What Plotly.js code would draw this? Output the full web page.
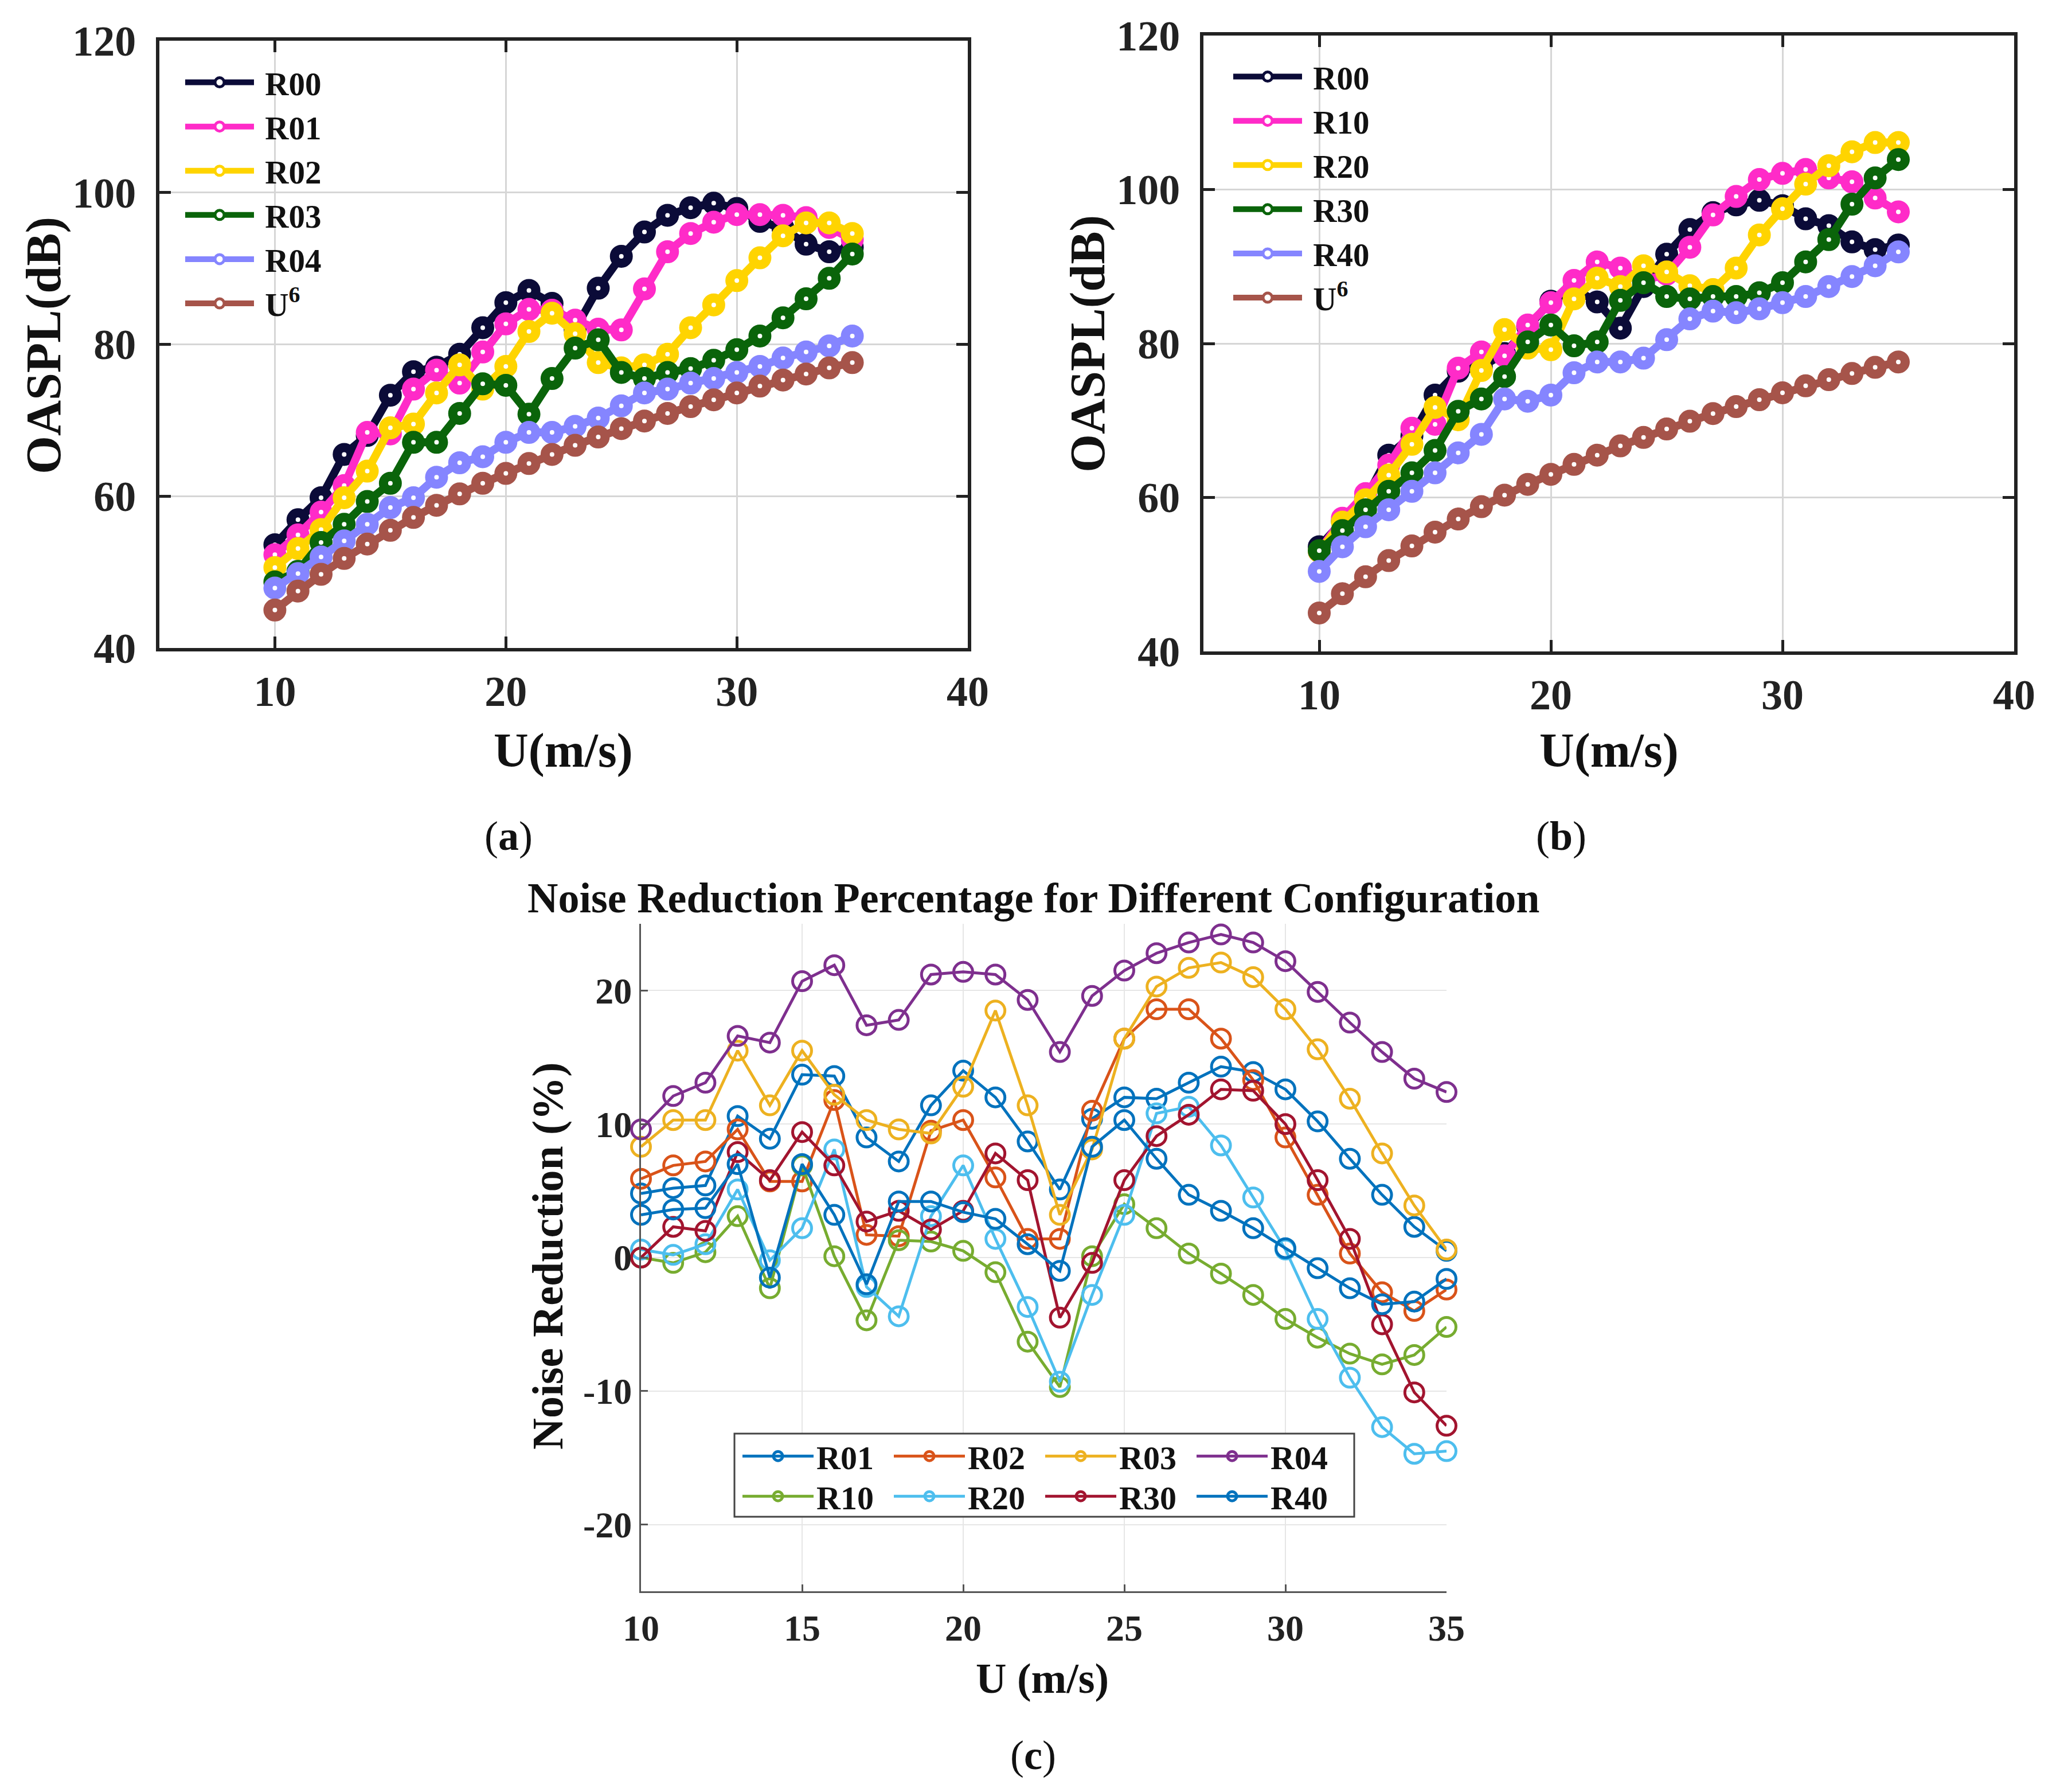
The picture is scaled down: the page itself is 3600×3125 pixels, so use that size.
<!DOCTYPE html>
<html>
<head>
<meta charset="utf-8">
<script src="https://cdn.plot.ly/plotly-3.0.1.min.js"></script>
<style>html,body{margin:0;padding:0;background:#fff;}#chart{width:3600px;height:3125px;}</style>
</head>
<body>
<div id="chart"></div>
<script>
// ---------- DATA ----------
var speed = [10,11,12,13,14,15,16,17,18,19,20,21,22,23,24,25,26,27,28,29,30,31,32,33,34,35];

// Panel (a) / (b): OASPL (dB)
var oasplR00 = [53.6,56.9,59.8,65.5,68.0,73.3,76.4,77.0,78.7,82.2,85.5,87.1,85.4,82.0,87.4,91.6,94.8,97.0,98.0,98.6,97.9,96.2,95.3,93.2,92.2,92.8];
var oasplR01 = [52.3,54.9,57.9,61.4,68.4,68.2,74.1,76.6,74.9,79.0,82.7,84.6,84.5,83.2,82.0,81.9,87.3,92.2,94.6,96.1,97.1,97.1,97.0,96.7,95.4,93.8];
var oasplR02 = [50.6,53.1,55.6,59.8,63.3,69.0,69.5,73.6,77.3,74.1,77.1,81.7,84.1,81.4,77.6,76.9,77.3,78.7,82.2,85.2,88.4,91.4,94.3,96.0,96.0,94.6];
var oasplR03 = [48.7,50.1,53.9,56.3,59.3,61.7,67.1,67.1,70.9,74.8,74.6,70.8,75.5,79.5,80.6,76.3,75.5,76.3,76.8,77.9,79.3,81.1,83.5,86.0,88.7,91.9];
var oasplR04 = [47.9,49.8,52.0,54.1,56.3,58.5,59.8,62.5,64.4,65.2,67.1,68.4,68.4,69.2,70.3,71.9,73.6,74.1,74.9,75.5,76.3,77.1,78.2,79.0,79.8,81.1];
var oasplR10 = [53.0,57.3,60.5,64.2,69.0,69.5,76.8,78.9,78.4,82.4,85.3,88.2,90.6,89.8,88.2,89.0,92.5,96.7,99.1,101.3,102.1,102.6,101.5,101.0,98.9,97.1];
var oasplR20 = [53.0,56.8,59.7,62.9,66.9,71.7,70.1,76.5,81.8,79.4,79.2,85.8,88.5,87.4,90.1,89.3,87.5,87.0,89.8,94.1,97.5,100.7,103.1,104.9,106.1,106.1];
var oasplR30 = [53.1,55.7,58.4,60.8,63.2,66.1,71.2,72.8,75.7,80.2,82.4,79.7,80.2,85.6,87.9,86.1,85.8,86.1,86.1,86.6,87.9,90.6,93.5,98.1,101.5,103.9];
var oasplR40 = [50.4,53.6,56.2,58.4,60.8,63.2,65.8,68.2,72.8,72.5,73.3,76.2,77.6,77.6,78.1,80.5,83.2,84.2,84.0,84.5,85.3,86.1,87.4,88.7,90.1,91.9];
var oasplU6  = [45.0,47.5,49.7,51.8,53.7,55.5,57.2,58.8,60.3,61.7,63.0,64.3,65.5,66.7,67.8,68.9,69.9,70.9,71.8,72.7,73.6,74.5,75.3,76.1,76.9,77.6];

// Panel (c): noise reduction (%)
var nrR01 = [4.8,5.2,5.4,10.6,8.9,13.7,13.6,9.0,7.2,11.4,14.0,12.0,8.7,5.1,10.4,12.0,11.9,13.1,14.3,13.9,12.6,10.2,7.4,4.7,2.3,0.5];
var nrR02 = [5.9,6.9,7.2,9.6,5.7,5.7,11.8,1.7,1.6,9.5,10.3,6.0,1.4,1.4,11.0,16.4,18.6,18.6,16.4,13.3,9.0,4.7,0.3,-2.6,-4.0,-2.4];
var nrR03 = [8.3,10.3,10.3,15.5,11.4,15.5,12.2,10.3,9.6,9.3,12.8,18.5,11.4,3.2,8.1,16.4,20.3,21.7,22.1,21.0,18.6,15.6,11.9,7.8,3.9,0.6];
var nrR04 = [9.6,12.1,13.1,16.6,16.1,20.7,21.9,17.4,17.8,21.2,21.4,21.2,19.3,15.4,19.6,21.5,22.8,23.6,24.2,23.6,22.2,19.9,17.6,15.4,13.4,12.4];
var nrR10 = [0.0,-0.4,0.4,3.1,-2.3,6.9,0.1,-4.7,1.3,1.2,0.5,-1.1,-6.3,-9.7,0.1,4.0,2.2,0.3,-1.2,-2.8,-4.6,-6.0,-7.2,-8.0,-7.3,-5.2];
var nrR20 = [0.6,0.2,1.0,5.1,-0.2,2.2,8.1,-2.2,-4.4,3.1,6.9,1.4,-3.7,-9.3,-2.8,3.2,10.8,11.3,8.4,4.5,0.6,-4.6,-9.0,-12.7,-14.7,-14.5];
var nrR30 = [0.0,2.3,2.0,7.9,5.8,9.4,6.9,2.7,3.5,2.1,3.5,7.8,5.8,-4.5,-0.4,5.8,9.1,10.7,12.6,12.5,10.0,5.8,1.4,-5.0,-10.1,-12.6];
var nrR40 = [3.2,3.6,3.7,7.0,-1.5,7.0,3.2,-2.0,4.2,4.2,3.4,2.9,1.0,-1.0,8.3,10.3,7.4,4.7,3.5,2.2,0.7,-0.8,-2.3,-3.5,-3.3,-1.6];

var oasplTicks = [40,60,80,100,120];
var speedTicksAB = [10,20,30,40];
var nrTickVals = [-20,-10,0,10,20];
var nrTickText = ['-20','-10','0','10','20'];
var speedTicksC = [10,15,20,25,30,35];

// ---------- STYLE ----------
var W = 3600, H = 3125;
var FONT = 'Liberation Serif, Times New Roman, serif';
var NB = '\u00a0';
function px(x){return x/W;}
function py(y){return 1 - y/H;}

var colA = {R00:'#0b0b38', P:'#ff2bc8', Y:'#ffd400', G:'#0a640a', L:'#8585ff', U:'#a6544a'};

function beadTrace(y, name, color, xa, ya, leg){
  return {x: speed, y: y, name: NB + name, type:'scatter', mode:'lines+markers',
    xaxis: xa, yaxis: ya, legend: leg, cliponaxis:false,
    line:{color:color, width:14},
    marker:{symbol:'circle', size:24, color:'#ffffff', line:{color:color, width:16}}};
}
function nrTrace(y, name, color, leg){
  return {x: speed, y: y, name: name, type:'scatter', mode:'lines+markers',
    xaxis:'x3', yaxis:'y3', legend: leg, cliponaxis:false,
    line:{color:color, width:5},
    marker:{symbol:'circle-open', size:33, color:color, line:{color:color, width:5}}};
}

var traces = [
  beadTrace(oasplR00,'R00',colA.R00,'x','y','legend'),
  beadTrace(oasplR01,'R01',colA.P,'x','y','legend'),
  beadTrace(oasplR02,'R02',colA.Y,'x','y','legend'),
  beadTrace(oasplR03,'R03',colA.G,'x','y','legend'),
  beadTrace(oasplR04,'R04',colA.L,'x','y','legend'),
  beadTrace(oasplU6,'U<sup>6</sup>',colA.U,'x','y','legend'),
  beadTrace(oasplR00,'R00',colA.R00,'x2','y2','legend2'),
  beadTrace(oasplR10,'R10',colA.P,'x2','y2','legend2'),
  beadTrace(oasplR20,'R20',colA.Y,'x2','y2','legend2'),
  beadTrace(oasplR30,'R30',colA.G,'x2','y2','legend2'),
  beadTrace(oasplR40,'R40',colA.L,'x2','y2','legend2'),
  beadTrace(oasplU6,'U<sup>6</sup>',colA.U,'x2','y2','legend2'),
  nrTrace(nrR01,'R01','#0072BD','legend3'),
  nrTrace(nrR02,'R02','#D95319','legend3'),
  nrTrace(nrR03,'R03','#EDB120','legend3'),
  nrTrace(nrR04,'R04','#7E2F8E','legend3'),
  nrTrace(nrR10,'R10','#77AC30','legend4'),
  nrTrace(nrR20,'R20','#4DBEEE','legend4'),
  nrTrace(nrR30,'R30','#A2142F','legend4'),
  nrTrace(nrR40,'R40','#0072BD','legend4')
];

var tickFontAB = {family:FONT, size:74, color:'#222', weight:'bold'};
function axAB(dom, range, vals, anchor, isX){
  var a = {domain:dom, range:range, tickvals:vals, anchor:anchor,
    showgrid:true, gridcolor:'#d6d6d6', gridwidth:3, zeroline:false,
    showline:true, linecolor:'#222', linewidth:6, mirror:'allticks',
    ticks:'inside', ticklen:20, tickwidth:5, tickcolor:'#222',
    tickfont:tickFontAB, fixedrange:true};
  a.ticklabelstandoff = isX ? 6 : 20;
  return a;
}
var tickFontC = {family:FONT, size:64, color:'#222', weight:'bold'};
function axC(dom, range, vals, text, anchor, isX){
  var a = {domain:dom, range:range, tickvals:vals, anchor:anchor,
    showgrid:true, gridcolor:'#e6e6e6', gridwidth:2, zeroline:false,
    showline:true, linecolor:'#555', linewidth:3, mirror:false,
    ticks:'inside', ticklen:12, tickwidth:3, tickcolor:'#555',
    tickfont:tickFontC, fixedrange:true};
  if(text) a.ticktext = text;
  a.ticklabelstandoff = isX ? 6 : 0;
  return a;
}

function legendAB(x, y){
  return {x:px(x), y:py(y), xref:'paper', yref:'paper', xanchor:'left', yanchor:'top',
    bgcolor:'rgba(0,0,0,0)', borderwidth:0, itemwidth:120, tracegroupgap:0,
    font:{family:FONT, size:57, color:'#111', weight:'bold'}};
}
function legendC(x, y){
  return {x:px(x), y:py(y), xref:'paper', yref:'paper', xanchor:'left', yanchor:'top',
    orientation:'h', entrywidth:125, entrywidthmode:'pixels',
    bgcolor:'rgba(0,0,0,0)', borderwidth:0, itemwidth:124,
    font:{family:FONT, size:58, color:'#111', weight:'bold'}};
}

function ann(text, x, y, size, angle, bold){
  return {text: bold ? '<b>'+text+'</b>' : text, x:px(x), y:py(y), xref:'paper', yref:'paper',
    xanchor:'center', yanchor:'middle', showarrow:false, textangle: angle||0,
    font:{family:FONT, size:size, color:'#111'}};
}

var layout = {
  width:W, height:H, margin:{l:0,r:0,t:0,b:0,pad:0},
  paper_bgcolor:'#ffffff', plot_bgcolor:'#ffffff',
  showlegend:true,
  xaxis: axAB([px(278),px(1688)],[5,40],speedTicksAB,'y',true),
  yaxis: axAB([py(1130),py(71)],[40,120],oasplTicks,'x',false),
  xaxis2: axAB([px(2099),px(3513)],[5,40],speedTicksAB,'y2',true),
  yaxis2: axAB([py(1136),py(62)],[40,120],oasplTicks,'x2',false),
  xaxis3: axC([px(1118),px(2523)],[10,35],speedTicksC,null,'y3',true),
  yaxis3: axC([py(2775),py(1611)],[-25,25],nrTickVals,nrTickText,'x3',false),
  legend: legendAB(318,100),
  legend2: legendAB(2146,90),
  legend3: legendC(1290,2495),
  legend4: legendC(1290,2565),
  shapes:[{type:'rect', xref:'paper', yref:'paper', x0:px(1281), x1:px(2362), y0:py(2500), y1:py(2645),
    line:{color:'#444', width:3}, fillcolor:'#ffffff', layer:'above'}],
  annotations:[
    ann('OASPL(dB)',76,603,86,-90,true),
    ann('U(m/s)',982,1309,84,0,true),
    ann('OASPL(dB)',1897,600,86,-90,true),
    ann('U(m/s)',2806,1309,84,0,true),
    ann('(<b>a</b>)',887,1458,72,0,false),
    ann('(<b>b</b>)',2723,1458,72,0,false),
    ann('Noise Reduction Percentage for Different Configuration',1802,1566,74,0,true),
    ann('Noise Reduction (%)',955,2190,76,-90,true),
    ann('U (m/s)',1818,2927,74,0,true),
    ann('(<b>c</b>)',1802,3061,72,0,false)
  ]
};

Plotly.newPlot('chart', traces, layout, {staticPlot:true, displayModeBar:false});
</script>
</body>
</html>
